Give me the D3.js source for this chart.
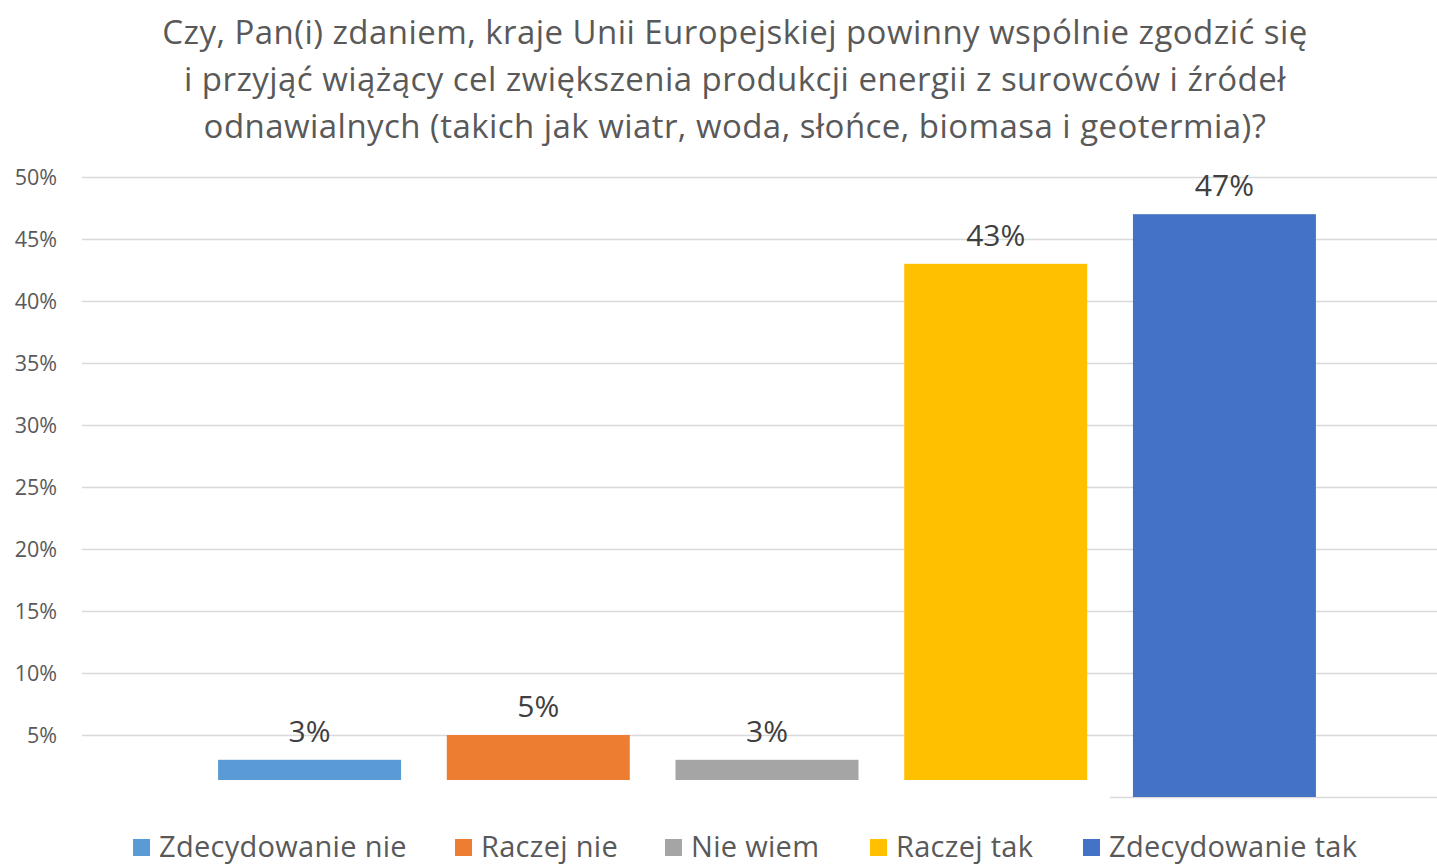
<!DOCTYPE html>
<html>
<head>
<meta charset="utf-8">
<script src="https://cdn.jsdelivr.net/npm/d3@7"></script>
<style>
  html, body { margin: 0; padding: 0; background: #fff; }
  svg { display: block; }
  text { font-family: "Open Sans", "Noto Sans", sans-serif; fill: #595959; }
</style>
</head>
<body>
<svg id="chart" width="1437" height="865"></svg>
<script>
const titleLines = [
  "Czy, Pan(i) zdaniem, kraje Unii Europejskiej powinny wspólnie zgodzić się",
  "i przyjąć wiążący cel zwiększenia produkcji energii z surowców i źródeł",
  "odnawialnych (takich jak wiatr, woda, słońce, biomasa i geotermia)?"
];
const categories = ["Zdecydowanie nie", "Raczej nie", "Nie wiem", "Raczej tak", "Zdecydowanie tak"];
const values = [3, 5, 3, 43, 47];
const colors = ["#5B9BD5", "#ED7D31", "#A5A5A5", "#FFC000", "#4472C4"];
const yTicks = [5, 10, 15, 20, 25, 30, 35, 40, 45, 50];

const svg = d3.select("#chart");
const W = 1437;

const x = d3.scaleBand().domain(categories).range([82, 1452]).paddingInner(0.2).paddingOuter(0.595);
const y = d3.scaleLinear().domain([0, 50]).range([797, 177]);

// title
svg.append("g").selectAll("text").data(titleLines).join("text")
  .attr("x", 735).attr("y", (d, i) => 44 + i * 47)
  .attr("text-anchor", "middle")
  .style("font-size", "33px")
  .style("letter-spacing", "0.45px")
  .text(d => d);

// gridlines
svg.append("g").selectAll("line").data(yTicks).join("line")
  .attr("x1", 82).attr("x2", W)
  .attr("y1", d => Math.round(y(d)) + 0.5).attr("y2", d => Math.round(y(d)) + 0.5)
  .attr("stroke", "#D9D9D9").attr("stroke-width", 1.5);

// y axis labels
svg.append("g").selectAll("text").data(yTicks).join("text")
  .attr("x", 57).attr("y", d => y(d) + 7.5)
  .attr("text-anchor", "end")
  .style("font-size", "21.5px")
  .text(d => d + "%");

// baseline
svg.append("line")
  .attr("x1", x.range()[0]).attr("x2", W)
  .attr("y1", y(0) + 0.5).attr("y2", y(0) + 0.5)
  .attr("stroke", "#D9D9D9").attr("stroke-width", 1.5);

// bars
svg.append("g").selectAll("rect").data(values).join("rect")
  .attr("x", (d, i) => x(categories[i]))
  .attr("y", d => y(d))
  .attr("width", x.bandwidth())
  .attr("height", d => y(0) - y(d))
  .attr("fill", (d, i) => colors[i]);

// white band covering the bottom of the first bars (as in the source image)
const last = categories[categories.length - 1];
const halfGap = x.step() * x.paddingInner() / 2;
svg.append("rect")
  .attr("x", 0).attr("y", y(1.37))
  .attr("width", x(last) - halfGap)
  .attr("height", y(0) - y(1.37) + 3)
  .attr("fill", "#fff");

// value labels
svg.append("g").selectAll("text").data(values).join("text")
  .attr("x", (d, i) => x(categories[i]) + x.bandwidth() / 2)
  .attr("y", d => y(d) - 18)
  .attr("text-anchor", "middle")
  .style("font-size", "30px")
  .style("fill", "#404040")
  .text(d => d + "%");

// legend
const legendX = [133, 455, 665, 870, 1083];
const lg = svg.append("g").selectAll("g").data(categories).join("g")
  .attr("transform", (d, i) => `translate(${legendX[i]},0)`);
lg.append("rect")
  .attr("x", 0).attr("y", 839).attr("width", 17).attr("height", 17)
  .attr("fill", (d, i) => colors[i]);
lg.append("text")
  .attr("x", 26).attr("y", 857)
  .style("font-size", "29px")
  .style("letter-spacing", "0.3px")
  .text(d => d);
</script>
</body>
</html>
